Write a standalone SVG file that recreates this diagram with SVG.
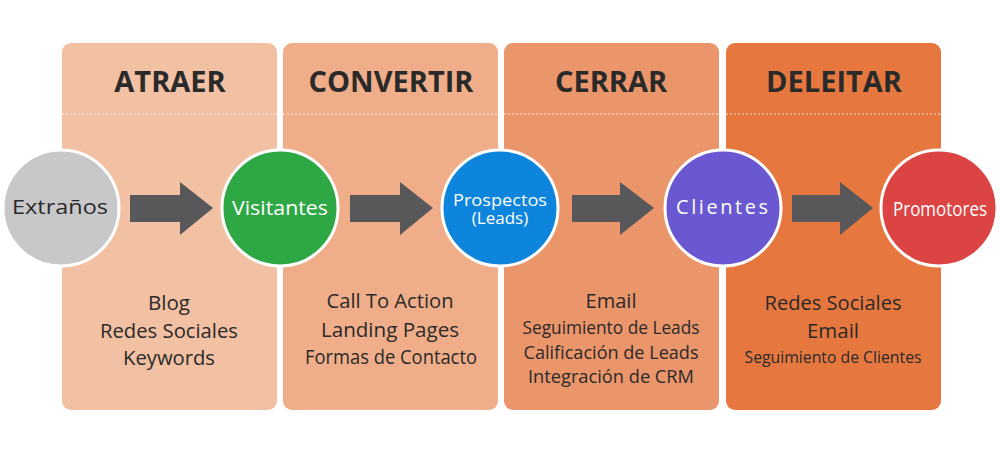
<svg xmlns="http://www.w3.org/2000/svg" width="1000" height="450" viewBox="0 0 1000 450">
<style>
.title{font-family:"Open Sans","Liberation Sans",sans-serif;font-weight:700;font-size:29px;fill:#2a2a2a;text-anchor:middle}
.item{font-family:"Open Sans","Liberation Sans",sans-serif;font-size:20px;fill:#2a2a2a;text-anchor:middle}
.lbl{font-family:"Open Sans","Liberation Sans",sans-serif;font-size:20px;text-anchor:middle}
.sep{stroke:#ffffff;stroke-width:1;stroke-dasharray:2 2;opacity:0.8}
.node{stroke:#ffffff;stroke-width:3}
.arrow{fill:#58585a}
</style>
<rect width="1000" height="450" fill="#ffffff"/>
<g id="stage-atraer">
<rect x="62" y="43" width="215" height="367" rx="9" fill="#f2c0a2"/>
<line class="sep" x1="62" y1="114" x2="277" y2="114"/>
<text class="title" x="170" y="92">ATRAER</text>
<text class="item" x="169" y="310" textLength="42" lengthAdjust="spacingAndGlyphs">Blog</text>
<text class="item" x="169" y="338" textLength="138" lengthAdjust="spacingAndGlyphs">Redes Sociales</text>
<text class="item" x="169" y="365" textLength="92" lengthAdjust="spacingAndGlyphs">Keywords</text>
</g>
<g id="stage-convertir">
<rect x="283" y="43" width="215" height="367" rx="9" fill="#efae89"/>
<line class="sep" x1="283" y1="114" x2="498" y2="114"/>
<text class="title" x="391" y="92">CONVERTIR</text>
<text class="item" x="390" y="308" textLength="127" lengthAdjust="spacingAndGlyphs">Call To Action</text>
<text class="item" x="390" y="337" textLength="138" lengthAdjust="spacingAndGlyphs">Landing Pages</text>
<text class="item" x="391" y="364" textLength="172" lengthAdjust="spacingAndGlyphs">Formas de Contacto</text>
</g>
<g id="stage-cerrar">
<rect x="504" y="43" width="215" height="367" rx="9" fill="#eb956a"/>
<line class="sep" x1="504" y1="114" x2="719" y2="114"/>
<text class="title" x="611" y="92">CERRAR</text>
<text class="item" x="611" y="308" textLength="51" lengthAdjust="spacingAndGlyphs">Email</text>
<text class="item" x="611" y="334" style="font-size:19px" textLength="177" lengthAdjust="spacingAndGlyphs">Seguimiento de Leads</text>
<text class="item" x="611" y="359" style="font-size:19px" textLength="175" lengthAdjust="spacingAndGlyphs">Calificación de Leads</text>
<text class="item" x="611" y="383" style="font-size:19px" textLength="166" lengthAdjust="spacingAndGlyphs">Integración de CRM</text>
</g>
<g id="stage-deleitar">
<rect x="726" y="43" width="215" height="367" rx="9" fill="#e6783f"/>
<line class="sep" x1="726" y1="114" x2="941" y2="114"/>
<text class="title" x="834" y="92">DELEITAR</text>
<text class="item" x="833" y="310" textLength="137" lengthAdjust="spacingAndGlyphs">Redes Sociales</text>
<text class="item" x="833" y="338" textLength="52" lengthAdjust="spacingAndGlyphs">Email</text>
<text class="item" x="833" y="363" style="font-size:17px" textLength="177" lengthAdjust="spacingAndGlyphs">Seguimiento de Clientes</text>
</g>
<g id="connectors">
<polygon class="arrow" points="130,195 180,195 180,182 213,208 180,235 180,222 130,222"/>
<polygon class="arrow" points="350,195 400,195 400,182 433,208 400,235 400,222 350,222"/>
<polygon class="arrow" points="572,195 620,195 620,182 654,208 620,235 620,222 572,222"/>
<polygon class="arrow" points="792,195 840,195 840,182 873,208 840,235 840,222 792,222"/>
</g>
<g id="node-extranos">
<circle class="node" cx="61" cy="208" r="58" fill="#c8c8cb"/>
<text class="lbl" x="60" y="214" fill="#2a2a2a" textLength="96" lengthAdjust="spacingAndGlyphs">Extraños</text>
</g>
<g id="node-visitantes">
<circle class="node" cx="280" cy="208" r="58" fill="#2ea845"/>
<text class="lbl" x="280" y="215" fill="#ffffff" textLength="96" lengthAdjust="spacingAndGlyphs">Visitantes</text>
</g>
<g id="node-prospectos">
<circle class="node" cx="500" cy="208" r="58" fill="#0d85dc"/>
<text class="lbl" fill="#ffffff" style="font-size:17px"><tspan x="500" y="206" textLength="94" lengthAdjust="spacingAndGlyphs">Prospectos</tspan><tspan x="500" y="224">(Leads)</tspan></text>
</g>
<g id="node-clientes">
<circle class="node" cx="723" cy="208" r="58" fill="#6a57d2"/>
<text class="lbl" x="722" y="214" fill="#ffffff" textLength="92" lengthAdjust="spacing">Clientes</text>
</g>
<g id="node-promotores">
<circle class="node" cx="939" cy="208" r="58" fill="#dc4444"/>
<text class="lbl" x="940" y="216" fill="#ffffff" textLength="94" lengthAdjust="spacingAndGlyphs">Promotores</text>
</g>
</svg>
